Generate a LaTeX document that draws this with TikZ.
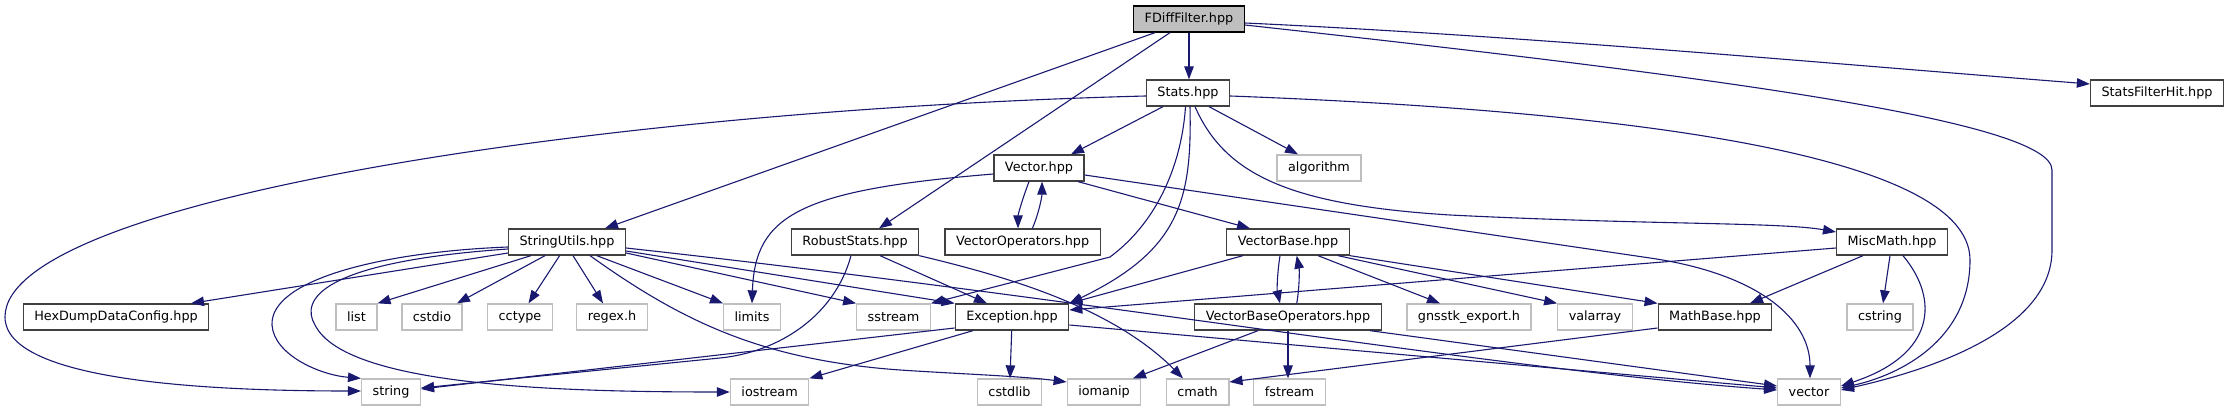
\documentclass[tikz,border=0pt]{standalone}
\usepackage{fontspec}
\newfontfamily\dvsans{DejaVu Sans}
\usetikzlibrary{arrows.meta}
\definecolor{edgecol}{HTML}{191970}
\definecolor{docborder}{HTML}{404040}
\definecolor{extborder}{HTML}{BFBFBF}
\definecolor{rootfill}{HTML}{BFBFBF}
\tikzset{
  docnode/.style={draw=docborder, fill=white, line width=1.3pt, minimum height=26pt,
    inner xsep=11pt, inner ysep=0pt, font={\dvsans\fontsize{12.8}{15}\selectfont}},
  extnode/.style={docnode, draw=extborder},
  rootnode/.style={docnode, draw=black, fill=rootfill},
  dep/.style={draw=edgecol, line width=1.1pt, -{Triangle[length=13pt,width=9.5pt]}},
}
\begin{document}
\begin{tikzpicture}[x=1pt,y=-1pt]
\useasboundingbox (0,0) rectangle (2230,411);
% nodes
\node[rootnode] (fdiff) at (1189,19) {FDiffFilter.hpp};
\node[docnode] (stats) at (1188,93) {Stats.hpp};
\node[docnode] (sfh) at (2157,93) {StatsFilterHit.hpp};
\node[docnode] (vh) at (1039,168) {Vector.hpp};
\node[extnode] (alg) at (1319,168) {algorithm};
\node[docnode] (su) at (567,242) {StringUtils.hpp};
\node[docnode] (rs) at (855,242) {RobustStats.hpp};
\node[docnode] (vo) at (1022.6,242) {VectorOperators.hpp};
\node[docnode] (vb) at (1288,242) {VectorBase.hpp};
\node[docnode] (mm) at (1892,242) {MiscMath.hpp};
\node[docnode] (hex) at (116,317) {HexDumpDataConfig.hpp};
\node[extnode] (list) at (356.5,317) {list};
\node[extnode] (cstdio) at (432,317) {cstdio};
\node[extnode] (cctype) at (520,317) {cctype};
\node[extnode] (regex) at (612,317) {regex.h};
\node[extnode] (limits) at (752,317) {limits};
\node[extnode] (sstream) at (893.5,317) {sstream};
\node[docnode] (ex) at (1012,317) {Exception.hpp};
\node[docnode] (vbo) at (1288,317) {VectorBaseOperators.hpp};
\node[extnode] (gn) at (1469,317) {gnsstk\_export.h};
\node[extnode] (va) at (1595,317) {valarray};
\node[docnode] (mb) at (1715,317) {MathBase.hpp};
\node[extnode] (cstring) at (1880,317) {cstring};
\node[extnode] (string) at (391,392) {string};
\node[extnode] (ios) at (769.6,392) {iostream};
\node[extnode] (cstdlib) at (1009.5,392) {cstdlib};
\node[extnode] (iomanip) at (1104,392) {iomanip};
\node[extnode] (cmath) at (1197.6,392) {cmath};
\node[extnode] (fstream) at (1289.5,392) {fstream};
\node[extnode] (vector) at (1809,392) {vector};
% FDiffFilter
\draw[dep] (fdiff.south) -- (fdiff.south |- stats.north);
\draw[dep] (1155,0 |- fdiff.south) -- (605,0 |- su.north);
\draw[dep] (1170,0 |- fdiff.south) -- (879,0 |- rs.north);
\draw[dep] (fdiff.east |- 0,23) .. controls (1526,36) and (1810,62) .. (sfh.west |- 0,84);
\draw[dep] (fdiff.east |- 0,25) .. controls (1700,75) and (2052,120) .. (2052,170) -- (2052,250) .. controls (2052,330) and (1930,370) .. (vector.east |- 0,390);
% Stats
\draw[dep] (stats.west |- 0,96) .. controls (600,110) and (5,200) .. (5,317) .. controls (5,380) and (200,391) .. (string.west |- 0,391);
\draw[dep] (1163,0 |- stats.south) -- (1071,0 |- vh.north);
\draw[dep] (1209,0 |- stats.south) -- (1298,0 |- alg.north);
\draw[dep] (1185.5,0 |- stats.south) .. controls (1182,160) and (1160,220) .. (1110,257) -- (sstream.north east);
\draw[dep] (1190,0 |- stats.south) .. controls (1192,200) and (1180,250) .. (ex.north east);
\draw[dep] (1195,0 |- stats.south) .. controls (1225,175) and (1290,205) .. (1450,215) .. controls (1650,225) and (1780,222) .. (mm.west |- 0,232);
\draw[dep] (stats.east |- 0,96) .. controls (1600,110) and (1970,150) .. (1970,260) .. controls (1970,340) and (1900,375) .. (vector.east |- 0,388);
% Vector.hpp
\draw[dep] (vh.west |- 0,174) .. controls (800,190) and (755,215) .. (limits.north);
\draw[dep] (1029,0 |- vh.south) .. controls (1022,200) and (1018,215) .. (1018,0 |- vo.north);
\draw[dep] (1032.4,0 |- vo.north) .. controls (1040,210) and (1042,195) .. (1042,0 |- vh.south);
\draw[dep] (1078,0 |- vh.south) -- (1250,0 |- vb.north);
\draw[dep] (vh.east |- 0,175) -- (1650,258) .. controls (1760,274) and (1810,320) .. (1810,0 |- vector.north);
% VectorBase
\draw[dep] (1243,0 |- vb.south) -- (ex.north east);
\draw[dep] (1280,0 |- vb.south) .. controls (1277,275) and (1277,290) .. (1280,0 |- vbo.north);
\draw[dep] (1296.7,0 |- vbo.north) .. controls (1299.5,288) and (1299.5,270) .. (1296.7,0 |- vb.south);
\draw[dep] (1318,0 |- vb.south) -- (1440,0 |- gn.north);
\draw[dep] (1338,0 |- vb.south) -- (va.north west);
\draw[dep] (vb.south east) -- (mb.north west);
% MiscMath
\draw[dep] (mm.west |- 0,248) -- (ex.east |- 0,310);
\draw[dep] (1863,0 |- mm.south) -- (1750,0 |- mb.north);
\draw[dep] (1890,0 |- mm.south) -- (1883,0 |- cstring.north);
\draw[dep] (1903,0 |- mm.south) .. controls (1940,300) and (1935,355) .. (vector.east |- 0,386);
% MathBase
\draw[dep] (mb.west |- 0,328) -- (cmath.east |- 0,382);
% Exception
\draw[dep] (ex.west |- 0,328) -- (string.east |- 0,389);
\draw[dep] (973,0 |- ex.south) -- (ios.north east);
\draw[dep] (1011.7,0 |- ex.south) -- (1010,0 |- cstdlib.north);
\draw[dep] (ex.east |- 0,325) -- (vector.west |- 0,388);
% VectorBaseOperators
\draw[dep] (1258,0 |- vbo.south) -- (1133,0 |- iomanip.north);
\draw[dep] (1288,0 |- vbo.south) -- (1288,0 |- fstream.north);
\draw[dep] (1370,0 |- vbo.south) -- (vector.west |- 0,386);
% RobustStats
\draw[dep] (851,0 |- rs.south) .. controls (835,315) and (780,352) .. (720,358) -- (string.east |- 0,388);
\draw[dep] (880,0 |- rs.south) -- (987,0 |- ex.north);
\draw[dep] (rs.south east) .. controls (1000,275) and (1110,305) .. (1183,0 |- cmath.north);
% StringUtils
\draw[dep] (su.west |- 0,253) -- (191,0 |- hex.north);
\draw[dep] (531,0 |- su.south) -- (list.north east);
\draw[dep] (545,0 |- su.south) -- (457,0 |- cstdio.north);
\draw[dep] (559.6,0 |- su.south) -- (528.5,0 |- cctype.north);
\draw[dep] (573,0 |- su.south) -- (603,0 |- regex.north);
\draw[dep] (596.7,0 |- su.south) -- (723,0 |- limits.north);
\draw[dep] (su.east |- 0,253) -- (sstream.north west);
\draw[dep] (su.east |- 0,251) -- (ex.north west);
\draw[dep] (su.east |- 0,248) .. controls (1100,300) and (1500,370) .. (vector.west |- 0,390);
\draw[dep] (su.west |- 0,247) .. controls (380,252) and (270,280) .. (272,325) .. controls (274,355) and (320,375) .. (string.north west);
\draw[dep] (su.west |- 0,249) .. controls (320,262) and (300,300) .. (315,325) .. controls (345,385) and (550,392) .. (ios.west);
\draw[dep] (590,0 |- su.south) .. controls (680,320) and (760,360) .. (900,370) .. controls (960,374) and (1020,376) .. (iomanip.west |- 0,382);
\end{tikzpicture}
\end{document}
